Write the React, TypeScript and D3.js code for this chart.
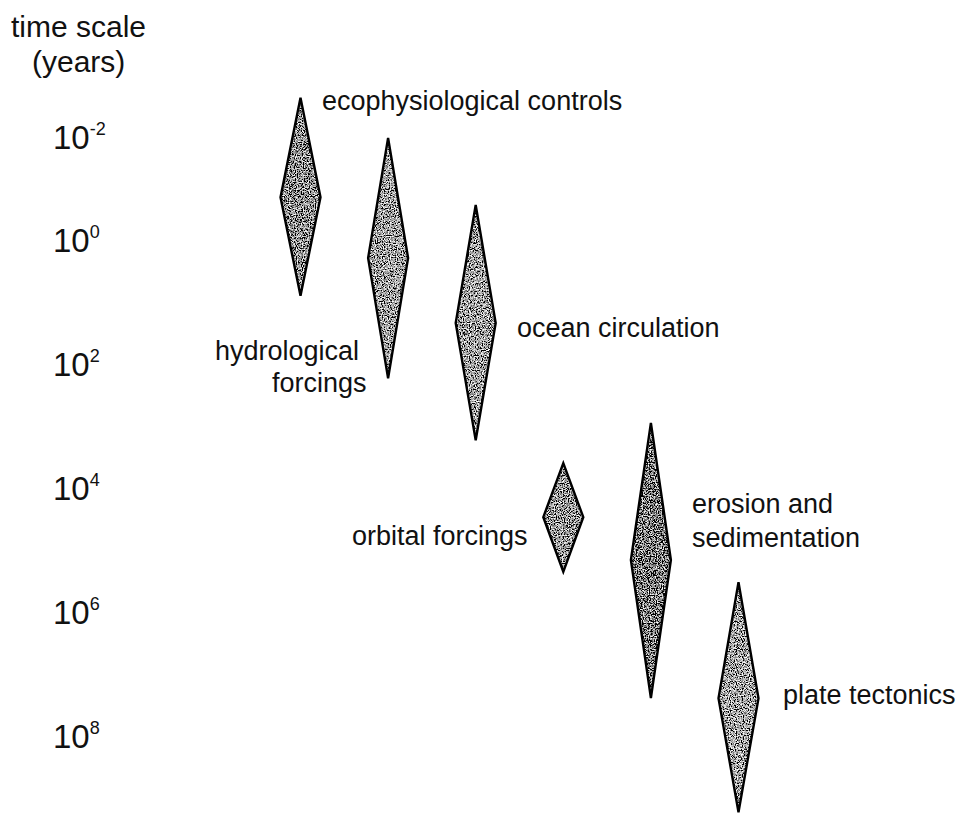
import React from 'react';
import * as d3 from 'd3';

// processes, left to right
const processes = [
  'ecophysiological controls',
  'hydrological forcings',
  'ocean circulation',
  'orbital forcings',
  'erosion and sedimentation',
  'plate tectonics',
];
// log10(years): upper tip, widest point, lower tip of each diamond
const spanTop = [-2.76, -1.98, -0.68, 3.6, 2.95, 5.52];
const spanMid = [-0.83, 0.29, 1.34, 4.47, 5.16, 7.39];
const spanBottom = [0.9, 2.23, 3.23, 5.35, 7.39, 9.23];
const tickExponents = [-2, 0, 2, 4, 6, 8];

// label placement (text lines, start x, baseline)
const labelLines: [string, number, number][][] = [
  [['ecophysiological controls', 322, 110]],
  [['hydrological', 215, 360], ['forcings', 272, 392]],
  [['ocean circulation', 517, 337]],
  [['orbital forcings', 352, 545]],
  [['erosion and', 692, 513], ['sedimentation', 692, 547]],
  [['plate tectonics', 783, 704]],
];
const tones = [0.3, 0.38, 0.38, 0.33, 0.22, 0.4];

const W = 959;
const H = 813;
const FONT = 'Liberation Sans, Arial, Helvetica, sans-serif';

export default function App() {
  const y = d3.scaleLinear().domain([-2, 0, 8]).range([137, 240, 736]);
  const x = d3.scalePoint<string>().domain(processes).range([300.5, 738.5]);
  const halfW = 20;

  const line = d3.line<[number, number]>().curve(d3.curveLinearClosed);

  const diamond = (i: number): [number, number][] => {
    const cx = x(processes[i])!;
    return [
      [cx, y(spanTop[i])],
      [cx + halfW, y(spanMid[i])],
      [cx, y(spanBottom[i])],
      [cx - halfW, y(spanMid[i])],
    ];
  };

  return (
    <svg
      width={W}
      height={H}
      viewBox={`0 0 ${W} ${H}`}
      style={{ position: 'absolute', left: 0, top: 0, background: '#fff' }}
      fontFamily={FONT}
    >
      <defs>
        {tones.map((t, i) => (
          <filter id={`grain${i}`} key={i} x="0" y="0" width="100%" height="100%">
            <feTurbulence type="fractalNoise" baseFrequency="0.85" numOctaves={2} seed={i * 5 + 3} />
            <feColorMatrix
              type="matrix"
              values={`3 0 0 0 ${t - 1.5}  3 0 0 0 ${t - 1.5}  3 0 0 0 ${t - 1.5}  0 0 0 0 1`}
            />
          </filter>
        ))}
        {processes.map((p, i) => (
          <clipPath id={`clip${i}`} key={p}>
            <path d={line(diamond(i))!} />
          </clipPath>
        ))}
      </defs>

      {/* axis title */}
      <text x={11} y={37} fontSize={30} fill="#111">time scale</text>
      <text x={32} y={72} fontSize={30} fill="#111">(years)</text>

      {/* tick labels */}
      {tickExponents.map((e) => (
        <text key={e} x={53} y={y(e) + 12} fontSize={33} fill="#111">
          10
          <tspan dy={-14} fontSize={18}>{e}</tspan>
        </text>
      ))}

      {/* diamonds */}
      {processes.map((p, i) => {
        const cx = x(p)!;
        const yt = y(spanTop[i]);
        const yb = y(spanBottom[i]);
        return (
          <g key={p}>
            <g clipPath={`url(#clip${i})`}>
              <rect
                x={cx - halfW}
                y={yt}
                width={halfW * 2}
                height={yb - yt}
                fill="#666"
                filter={`url(#grain${i})`}
              />
            </g>
            <path d={line(diamond(i))!} fill="none" stroke="#000" strokeWidth={2.4} strokeLinejoin="miter" />
          </g>
        );
      })}

      {/* process labels */}
      {labelLines.map((lines, i) =>
        lines.map(([t, lx, ly]) => (
          <text key={`${i}-${t}`} x={lx} y={ly} fontSize={27} fill="#111">
            {t}
          </text>
        ))
      )}
    </svg>
  );
}
